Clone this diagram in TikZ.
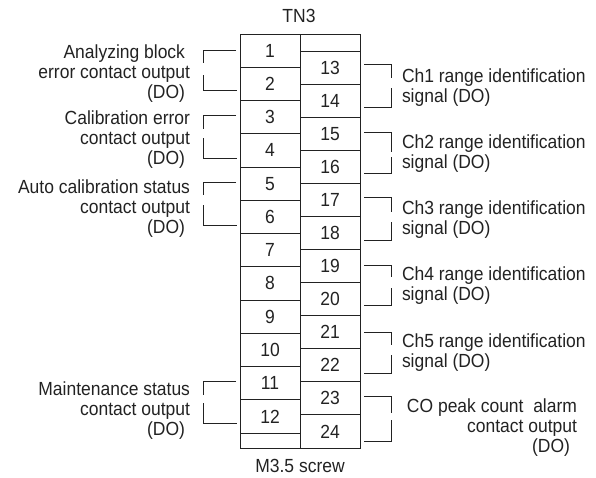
\documentclass[tikz,border=0pt]{standalone}
\usepackage{fontspec}
\setmainfont[FakeStretch=0.92]{Liberation Sans}
\definecolor{ink}{HTML}{222222}
\begin{document}
\begin{tikzpicture}[x=1pt,y=-1pt,
  cell/.style={draw=ink, line width=0.9pt, minimum width=60pt, inner sep=0pt, outer sep=0pt,
    text=ink, font=\fontsize{19}{20}\selectfont},
  lbl/.style={inner sep=0pt, outer sep=0pt, text=ink, font=\fontsize{19}{20}\selectfont},
  brk/.style={draw=ink, line width=0.9pt}]
\useasboundingbox (0,0) rectangle (596,477);
% terminal block
\foreach \k in {1,...,12}
  \node[cell, minimum height=33.25pt] (L\k) at (270,{34+33.25*(\k-0.5)}) {\k};
\node[cell, minimum height=15pt] (Lx) at (270,440.5) {};
\node[cell, minimum height=17pt] (Rx) at (330,42.5) {};
\foreach \k in {13,...,24}
  \node[cell, minimum height=33.083pt] (R\k) at (330,{51+33.083*(\k-12.5)}) {\k};
% titles
\node[lbl, anchor=base] (tn) at (299,22) {TN3};
\node[lbl, anchor=base] (scr) at (300,472) {M3.5 screw};
% left brackets
\foreach \t/\a/\b/\e in {50/63/75/90, 115/129/138/158, 182/195/205/225, 381/395/403/423}{
  \draw[brk] (236,\t) -- (203,\t) -- (203,\a);
  \draw[brk] (203,\b) -- (203,\e) -- (237,\e);
}
% right brackets
\foreach \t/\a/\b/\e in {64/78/88/107, 132/152/157/173, 197/212/222/240, 265/277/288/305, 332/345/355/373, 396/413/420/441}{
  \draw[brk] (364,\t) -- (391,\t) -- (391,\a);
  \draw[brk] (391,\b) -- (391,\e) -- (364,\e);
}
% left labels
\node[lbl, anchor=base east] (a1) at (185,58) {Analyzing block};
\node[lbl, anchor=base east] (a2) at (190,78) {error contact output};
\node[lbl, anchor=base east] (a3) at (185,98) {(DO)};
\node[lbl, anchor=base east] (b1) at (190,124) {Calibration error};
\node[lbl, anchor=base east] (b2) at (190,144) {contact output};
\node[lbl, anchor=base east] (b3) at (185,164) {(DO)};
\node[lbl, anchor=base east] (c1) at (190,193) {Auto calibration status};
\node[lbl, anchor=base east] (c2) at (190,213) {contact output};
\node[lbl, anchor=base east] (c3) at (185,233) {(DO)};
\node[lbl, anchor=base east] (d1) at (190,395) {Maintenance status};
\node[lbl, anchor=base east] (d2) at (190,415) {contact output};
\node[lbl, anchor=base east] (d3) at (185,435) {(DO)};
% right labels
\foreach \n/\y in {1/82, 2/148, 3/214, 4/280, 5/347}{
  \node[lbl, anchor=base west] (ch\n a) at (402,\y) {Ch\n\ range identification};
  \node[lbl, anchor=base west] (ch\n b) at (402,{\y+20}) {signal (DO)};
}
\node[lbl, anchor=base east] (e1) at (577,412) {CO peak count~~alarm};
\node[lbl, anchor=base east] (e2) at (577,432) {contact output};
\node[lbl, anchor=base east] (e3) at (570,452) {(DO)};
\end{tikzpicture}
\end{document}
